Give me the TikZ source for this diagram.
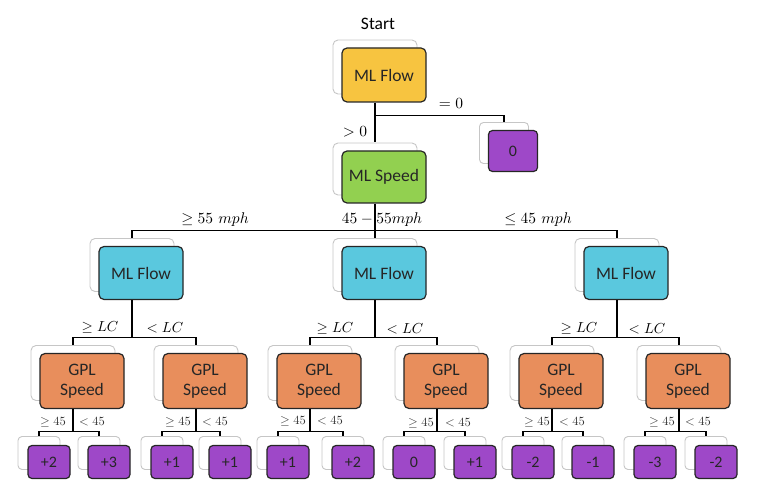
\documentclass[tikz,border=0pt]{standalone}
\usepackage{amsmath}
\usepackage{fontspec}
\newfontfamily\calfont{Carlito}
\usetikzlibrary{shadows}

\definecolor{flowtop}{RGB}{247,196,64}
\definecolor{speedgreen}{RGB}{146,208,80}
\definecolor{flowcyan}{RGB}{90,200,222}
\definecolor{gplorange}{RGB}{232,142,92}
\definecolor{leafpurple}{RGB}{158,72,200}

\tikzset{
  boxbase/.style={draw=black!85, line width=1.2pt, rounded corners=5pt, inner sep=0pt,
    align=center, text=black!85, font=\calfont\fontsize{17.5}{20}\selectfont},
  bigshadow/.style={copy shadow={shadow xshift=-9pt, shadow yshift=8pt, fill=white,
    draw=gray!45, line width=0.9pt}},
  smallshadow/.style={copy shadow={shadow xshift=-10pt, shadow yshift=9pt, fill=white,
    draw=gray!45, line width=0.9pt}},
  bigbox/.style={boxbase, bigshadow, minimum width=84pt, minimum height=53pt},
  leafbox/.style={boxbase, smallshadow, fill=leafpurple, rounded corners=4pt,
    minimum width=42pt, minimum height=33pt, font=\calfont\fontsize{16}{18}\selectfont},
  link/.style={draw=black, line width=1.2pt},
  cond/.style={inner sep=0pt, font=\fontsize{10}{12}\selectfont, scale=1.55},
  lccond/.style={inner sep=0pt, font=\fontsize{10}{12}\selectfont, scale=1.45},
  smallcond/.style={inner sep=0pt, font=\fontsize{10}{12}\selectfont, scale=1.25, text=black!80}
}

\begin{document}
\begin{tikzpicture}[x=1pt, y=-1pt]
\useasboundingbox (0,0) rectangle (770,494);

\node[inner sep=0pt, font=\calfont\fontsize{17.5}{20}\selectfont] (start) at (378,24) {Start};

% root and first split
\node[bigbox, fill=flowtop, minimum height=54pt] (mlflow) at (384,75) {ML Flow};
\node[bigbox, fill=speedgreen, minimum height=52pt] (mlspeed) at (384,177) {ML Speed};
\node[boxbase, bigshadow, fill=leafpurple, rounded corners=4pt, minimum width=49pt,
  minimum height=41pt, font=\calfont\fontsize{16}{18}\selectfont] (zero) at (513,151) {0};

% flow nodes
\node[bigbox, fill=flowcyan] (flowA) at (141,273) {ML Flow};
\node[bigbox, fill=flowcyan] (flowB) at (384,273) {ML Flow};
\node[bigbox, fill=flowcyan] (flowC) at (626,273) {ML Flow};

% gpl speed nodes
\node[bigbox, fill=gplorange, minimum height=55pt] (gpl1) at (82,381) {GPL\\Speed};
\node[bigbox, fill=gplorange, minimum height=55pt] (gpl2) at (205,381) {GPL\\Speed};
\node[bigbox, fill=gplorange, minimum height=55pt] (gpl3) at (319,381) {GPL\\Speed};
\node[bigbox, fill=gplorange, minimum height=55pt] (gpl4) at (446,381) {GPL\\Speed};
\node[bigbox, fill=gplorange, minimum height=55pt] (gpl5) at (561,381) {GPL\\Speed};
\node[bigbox, fill=gplorange, minimum height=55pt] (gpl6) at (688,381) {GPL\\Speed};

% leaves
\node[leafbox] (leaf1) at (49,462) {+2};
\node[leafbox] (leaf2) at (109,462) {+3};
\node[leafbox] (leaf3) at (172,462) {+1};
\node[leafbox] (leaf4) at (230,462) {+1};
\node[leafbox] (leaf5) at (288,462) {+1};
\node[leafbox] (leaf6) at (353,462) {+2};
\node[leafbox] (leaf7) at (414,462) {0};
\node[leafbox] (leaf8) at (475,462) {+1};
\node[leafbox] (leaf9) at (533,462) {-2};
\node[leafbox] (leaf10) at (593,462) {-1};
\node[leafbox] (leaf11) at (655,462) {-3};
\node[leafbox] (leaf12) at (716,462) {-2};

% connectors
\draw[link] ([xshift=-9pt]mlflow.south) -- ([shift={(-9pt,8pt)}]mlspeed.north);
\draw[link] ([xshift=-9pt]mlflow.south) ++(0,13) -| ([shift={(-9pt,8pt)}]zero.north);
\draw[link] ([xshift=-9pt]mlspeed.south) -- ([shift={(-9pt,8pt)}]flowB.north);
\draw[link] ([shift={(-9pt,8pt)}]flowA.north) |- ([xshift=-9pt,yshift=-27pt]mlspeed.south)
  -| ([shift={(-9pt,8pt)}]flowC.north);
\foreach \p/\a/\b in {flowA/gpl1/gpl2, flowB/gpl3/gpl4, flowC/gpl5/gpl6} {
  \draw[link] ([xshift=-9pt]\p.south) -- ++(0,37) coordinate (j\p);
  \draw[link] ([shift={(-9pt,8pt)}]\a.north) |- (j\p) -| ([shift={(-9pt,8pt)}]\b.north);
}
\foreach \p/\a/\b in {gpl1/leaf1/leaf2, gpl2/leaf3/leaf4, gpl3/leaf5/leaf6,
    gpl4/leaf7/leaf8, gpl5/leaf9/leaf10, gpl6/leaf11/leaf12} {
  \draw[link] ([xshift=-9pt]\p.south) -- ++(0,22) coordinate (j\p);
  \draw[link] ([shift={(-10pt,9pt)}]\a.north) |- (j\p) -| ([shift={(-10pt,9pt)}]\b.north);
}

% conditions
\node[cond] (eqzero) at (451,104) {$=0$};
\node[cond] (gtzero) at (355,132) {$>0$};
\node[cond] (fast) at (215,220) {$\geq 55\ mph$};
\node[cond] (mid) at (382,220) {$45-55mph$};
\node[cond] (slow) at (538,220) {$\leq 45\ mph$};

\node[lccond] (geA) at (100,328) {$\geq LC$};
\node[lccond] (ltA) at (165,328) {$<LC$};
\node[lccond] (geB) at (335,329) {$\geq LC$};
\node[lccond] (ltB) at (405,329) {$<LC$};
\node[lccond] (geC) at (579,329) {$\geq LC$};
\node[lccond] (ltC) at (647,329) {$<LC$};

\node[smallcond] (ge1) at (53,422) {$\geq 45$};
\node[smallcond] (lt1) at (92,422) {$<45$};
\node[smallcond] (ge2) at (178,422) {$\geq 45$};
\node[smallcond] (lt2) at (215,422) {$<45$};
\node[smallcond] (ge3) at (293,421) {$\geq 45$};
\node[smallcond] (lt3) at (330,421) {$<45$};
\node[smallcond] (ge4) at (421,423) {$\geq 45$};
\node[smallcond] (lt4) at (458,423) {$<45$};
\node[smallcond] (ge5) at (537,422) {$\geq 45$};
\node[smallcond] (lt5) at (572,422) {$<45$};
\node[smallcond] (ge6) at (662,422) {$\geq 45$};
\node[smallcond] (lt6) at (698,422) {$<45$};
\end{tikzpicture}
\end{document}
